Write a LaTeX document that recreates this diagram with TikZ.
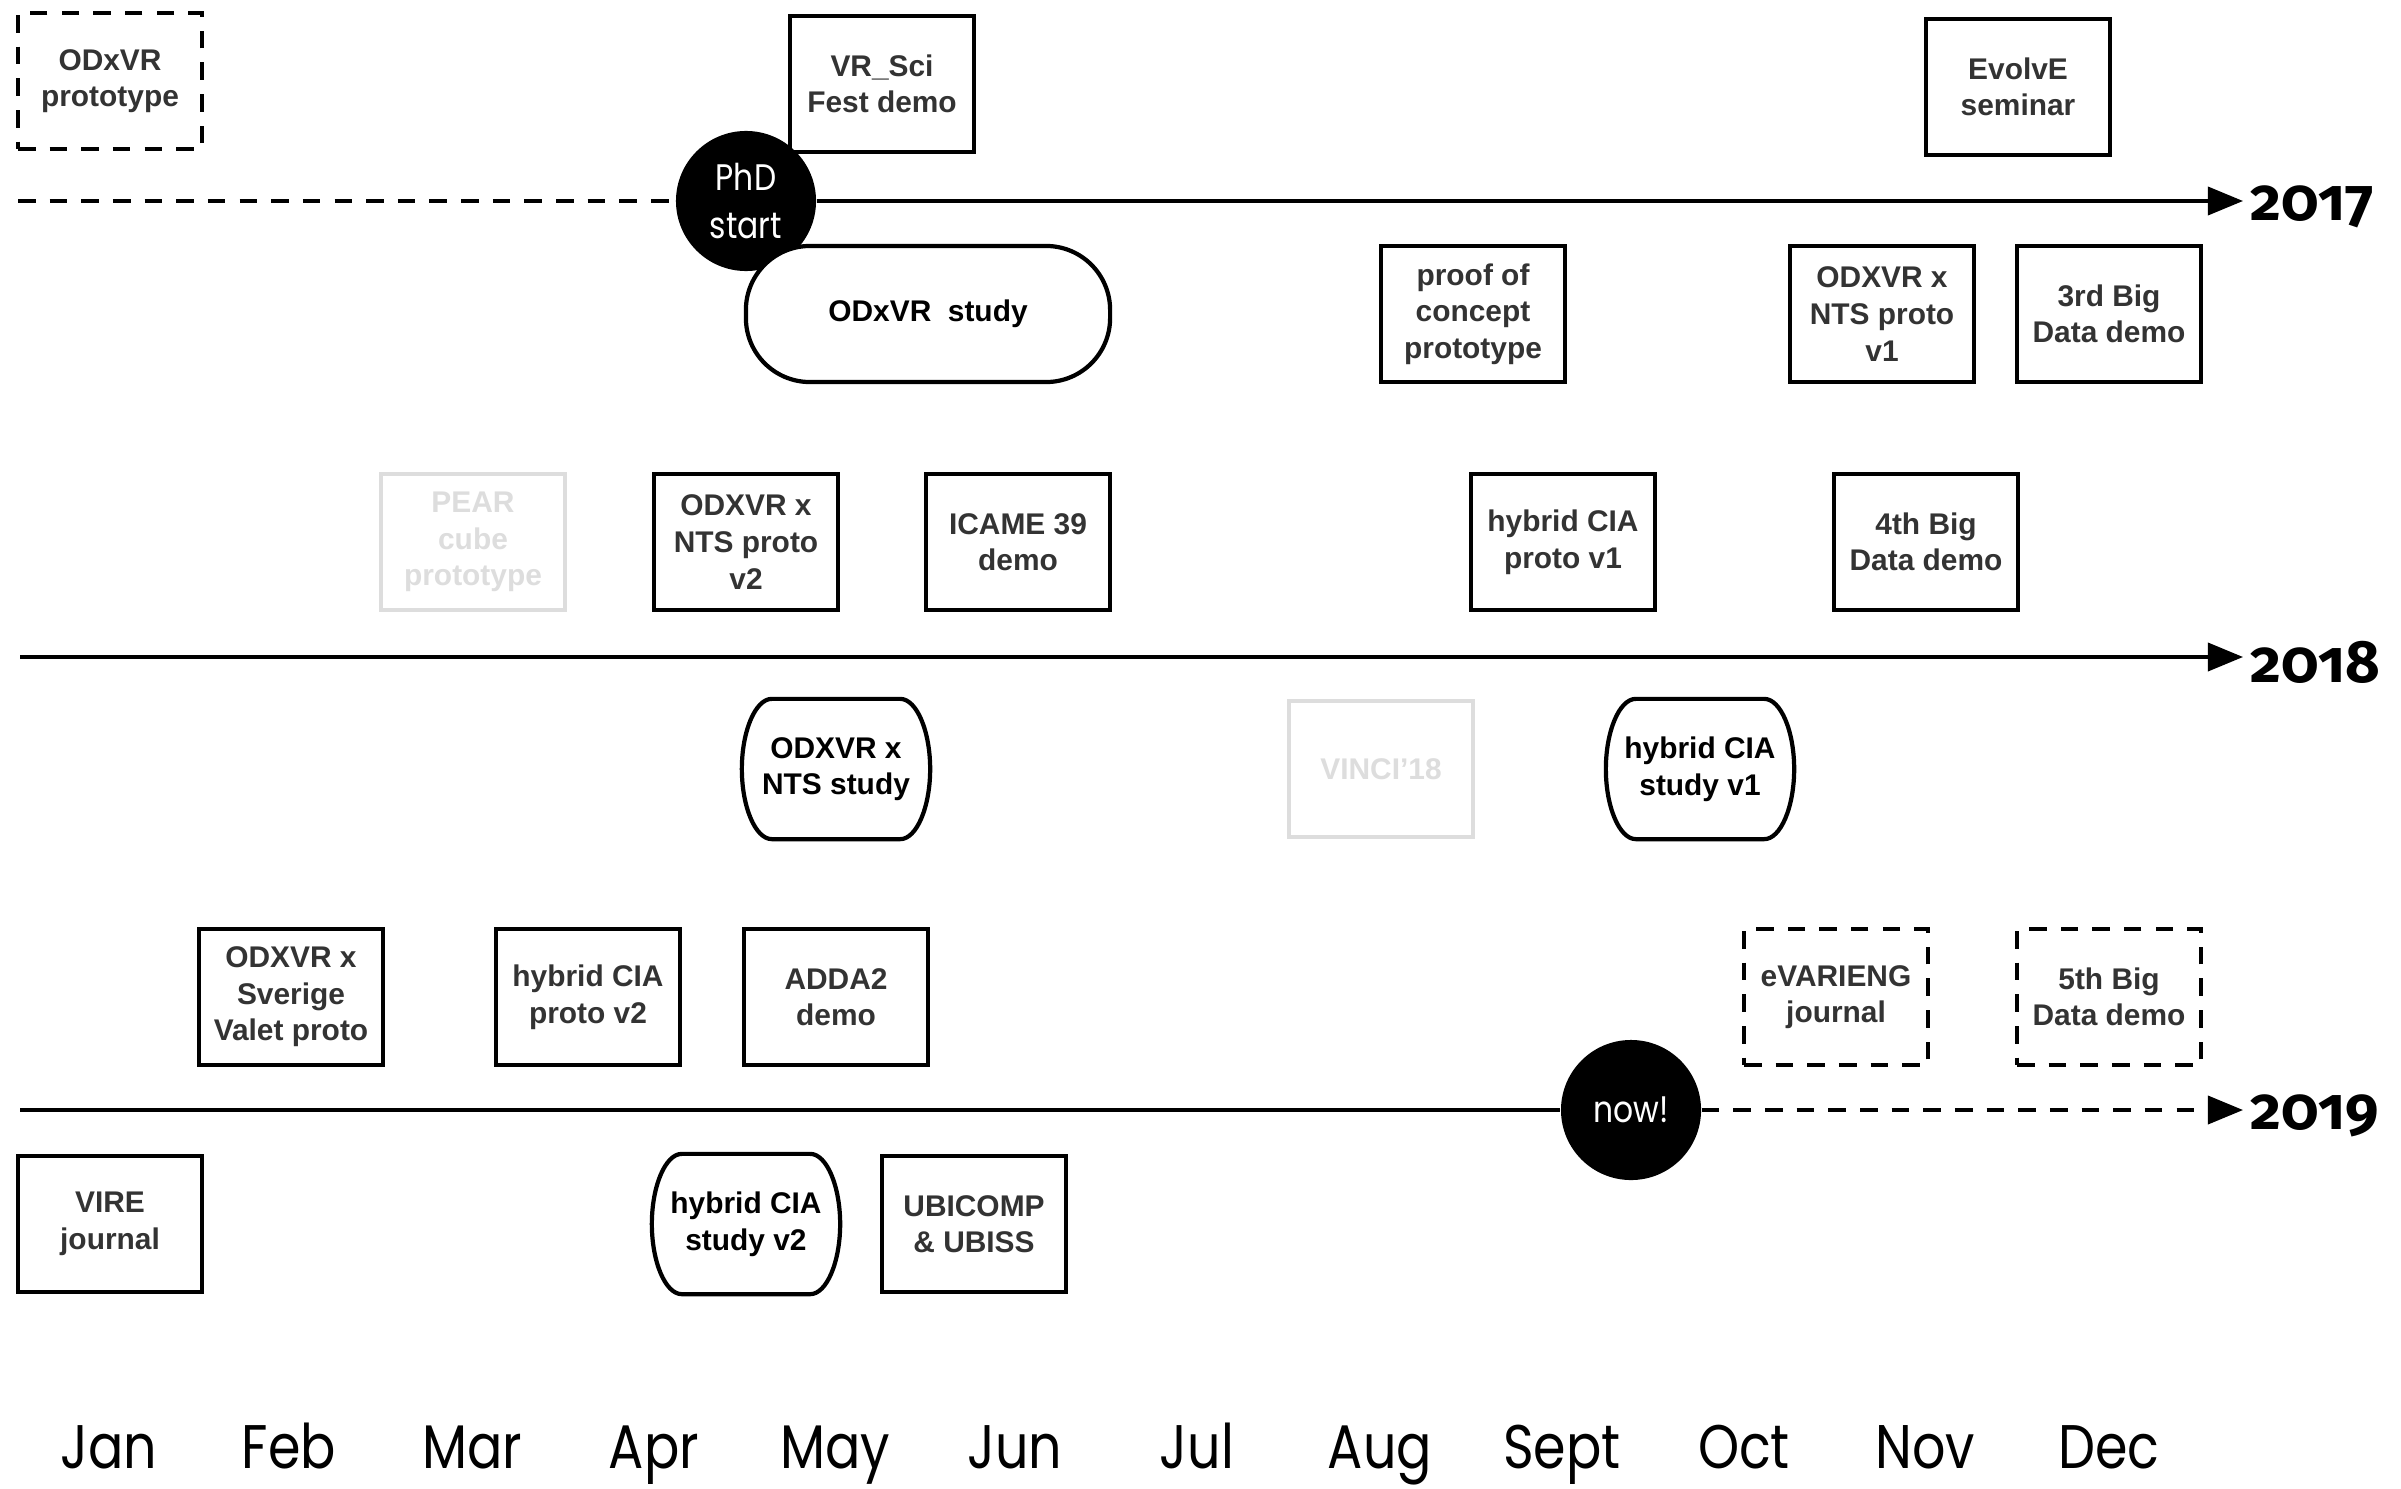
\documentclass[tikz,border=0pt]{standalone}
\usepackage{fontspec}
\setmainfont{Liberation Sans}
\newfontfamily\monthfont[FakeStretch=0.85]{Poppins}
\newfontfamily\yearfont[Numbers=OldStyle]{Fira Sans}
\usetikzlibrary{arrows.meta}
\definecolor{boxtext}{HTML}{333333}
\definecolor{faded}{HTML}{DDDDDD}
% outline of a study: flat top and bottom, bulging elliptic sides
\newcommand\studyoutline[1]{%
  \draw[line width=1.2pt]
    ([xshift=-0.3cm]#1.north east)
      .. controls ([xshift=-0.134cm]#1.north east) and ([yshift=0.376cm]#1.east) .. (#1.east)
      .. controls ([yshift=-0.376cm]#1.east) and ([xshift=-0.134cm]#1.south east) .. ([xshift=-0.3cm]#1.south east)
    -- ([xshift=0.3cm]#1.south west)
      .. controls ([xshift=0.134cm]#1.south west) and ([yshift=-0.376cm]#1.west) .. (#1.west)
      .. controls ([yshift=0.376cm]#1.west) and ([xshift=0.134cm]#1.north west) .. ([xshift=0.3cm]#1.north west)
    -- cycle;}
\begin{document}
\begin{tikzpicture}[x=0.01cm,y=-0.01cm,
  every node/.style={inner sep=0pt, align=center},
  event/.style={draw=black, line width=1.2pt, fill=white,
    minimum width=1.84cm, minimum height=1.36cm,
    font=\bfseries\fontsize{8.5}{10.4}\selectfont, text=boxtext},
  planned/.style={event, dash pattern=on 5pt off 4pt},
  dropped/.style={event, draw=faded, text=faded},
  study/.style={event, draw=none, fill=none, text=black},
  longstudy/.style={event, text=black, minimum width=3.64cm, rounded corners=0.64cm},
  milestone/.style={circle, fill=black, minimum size=1.40cm, text=white,
    font=\monthfont\fontsize{10.5}{13.4}\selectfont},
  timeline/.style={line width=1pt},
  future/.style={timeline, dash pattern=on 5pt off 4pt},
  tip/.style={-{Triangle[length=10pt,width=8pt]}},
  year/.style={anchor=west, font=\yearfont\bfseries\fontsize{17}{17}\selectfont},
  month/.style={anchor=base, font=\monthfont\fontsize{17.5}{17.5}\selectfont}
]
\useasboundingbox (0,0) rectangle (2401,1488);

% year axes
\coordinate (s17) at (18,201);
\coordinate (e17) at (2243,201);
\coordinate (s18) at (20,657);
\coordinate (e18) at (2243,657);
\coordinate (s19) at (20,1110);
\coordinate (e19) at (2243,1110);

% milestones on the axes
\node[event] (vrsci) at (882,84) {VR\_Sci\\Fest demo};
\node[milestone] (phd) at (746,201) {PhD\\start};
\node[milestone] (now) at (1631,1110) {now!};

\draw[future] (s17) -- (phd);
\draw[timeline, tip] (phd) -- (e17);
\draw[timeline, tip] (s18) -- (e18);
\draw[timeline] (s19) -- (now);
\draw[future, tip] (now) -- (e19);

\node[year] (y17) at (2250,207) {2017};
\node[year] (y18) at (2250,662) {2018};
\node[year] (y19) at (2250,1116) {2019};

% 2017
\node[planned] (odxvrproto) at (110,81) {ODxVR\\prototype};
\node[event] (evolve) at (2018,87) {EvolvE\\seminar};
\node[longstudy] (odxvrstudy) at (928,314) {ODxVR\ \ study};
\node[event] (poc) at (1473,314) {proof of\\concept\\prototype};
\node[event] (ntsv1) at (1882,314) {ODXVR x\\NTS proto\\v1};
\node[event] (bd3) at (2109,314) {3rd Big\\Data demo};

% 2018
\node[dropped] (pear) at (473,542) {PEAR\\cube\\prototype};
\node[event] (ntsv2) at (746,542) {ODXVR x\\NTS proto\\v2};
\node[event] (icame) at (1018,542) {ICAME 39\\demo};
\node[event] (ciav1) at (1563,542) {hybrid CIA\\proto v1};
\node[event] (bd4) at (1926,542) {4th Big\\Data demo};
\node[study] (ntsstudy) at (836,769) {ODXVR x\\NTS study};
\studyoutline{ntsstudy}
\node[dropped] (vinci) at (1381,769) {VINCI'18};
\node[study] (ciastudy1) at (1700,769) {hybrid CIA\\study v1};
\studyoutline{ciastudy1}

% 2019
\node[event] (valet) at (291,997) {ODXVR x\\Sverige\\Valet proto};
\node[event] (ciav2) at (588,997) {hybrid CIA\\proto v2};
\node[event] (adda) at (836,997) {ADDA2\\demo};
\node[planned] (evarieng) at (1836,997) {eVARIENG\\journal};
\node[planned] (bd5) at (2109,997) {5th Big\\Data demo};
\node[event] (vire) at (110,1224) {VIRE\\journal};
\node[study] (ciastudy2) at (746,1224) {hybrid CIA\\study v2};
\studyoutline{ciastudy2}
\node[event] (ubicomp) at (974,1224) {UBICOMP\\\& UBISS};

% months
\foreach \m/\x in {Jan/109, Feb/289, Mar/472, Apr/654, May/835, Jun/1015,
                   Jul/1197, Aug/1380, Sept/1562, Oct/1744, Nov/1925, Dec/2109}
  \node[month] (m\m) at (\x,1468) {\m};
\end{tikzpicture}
\end{document}
